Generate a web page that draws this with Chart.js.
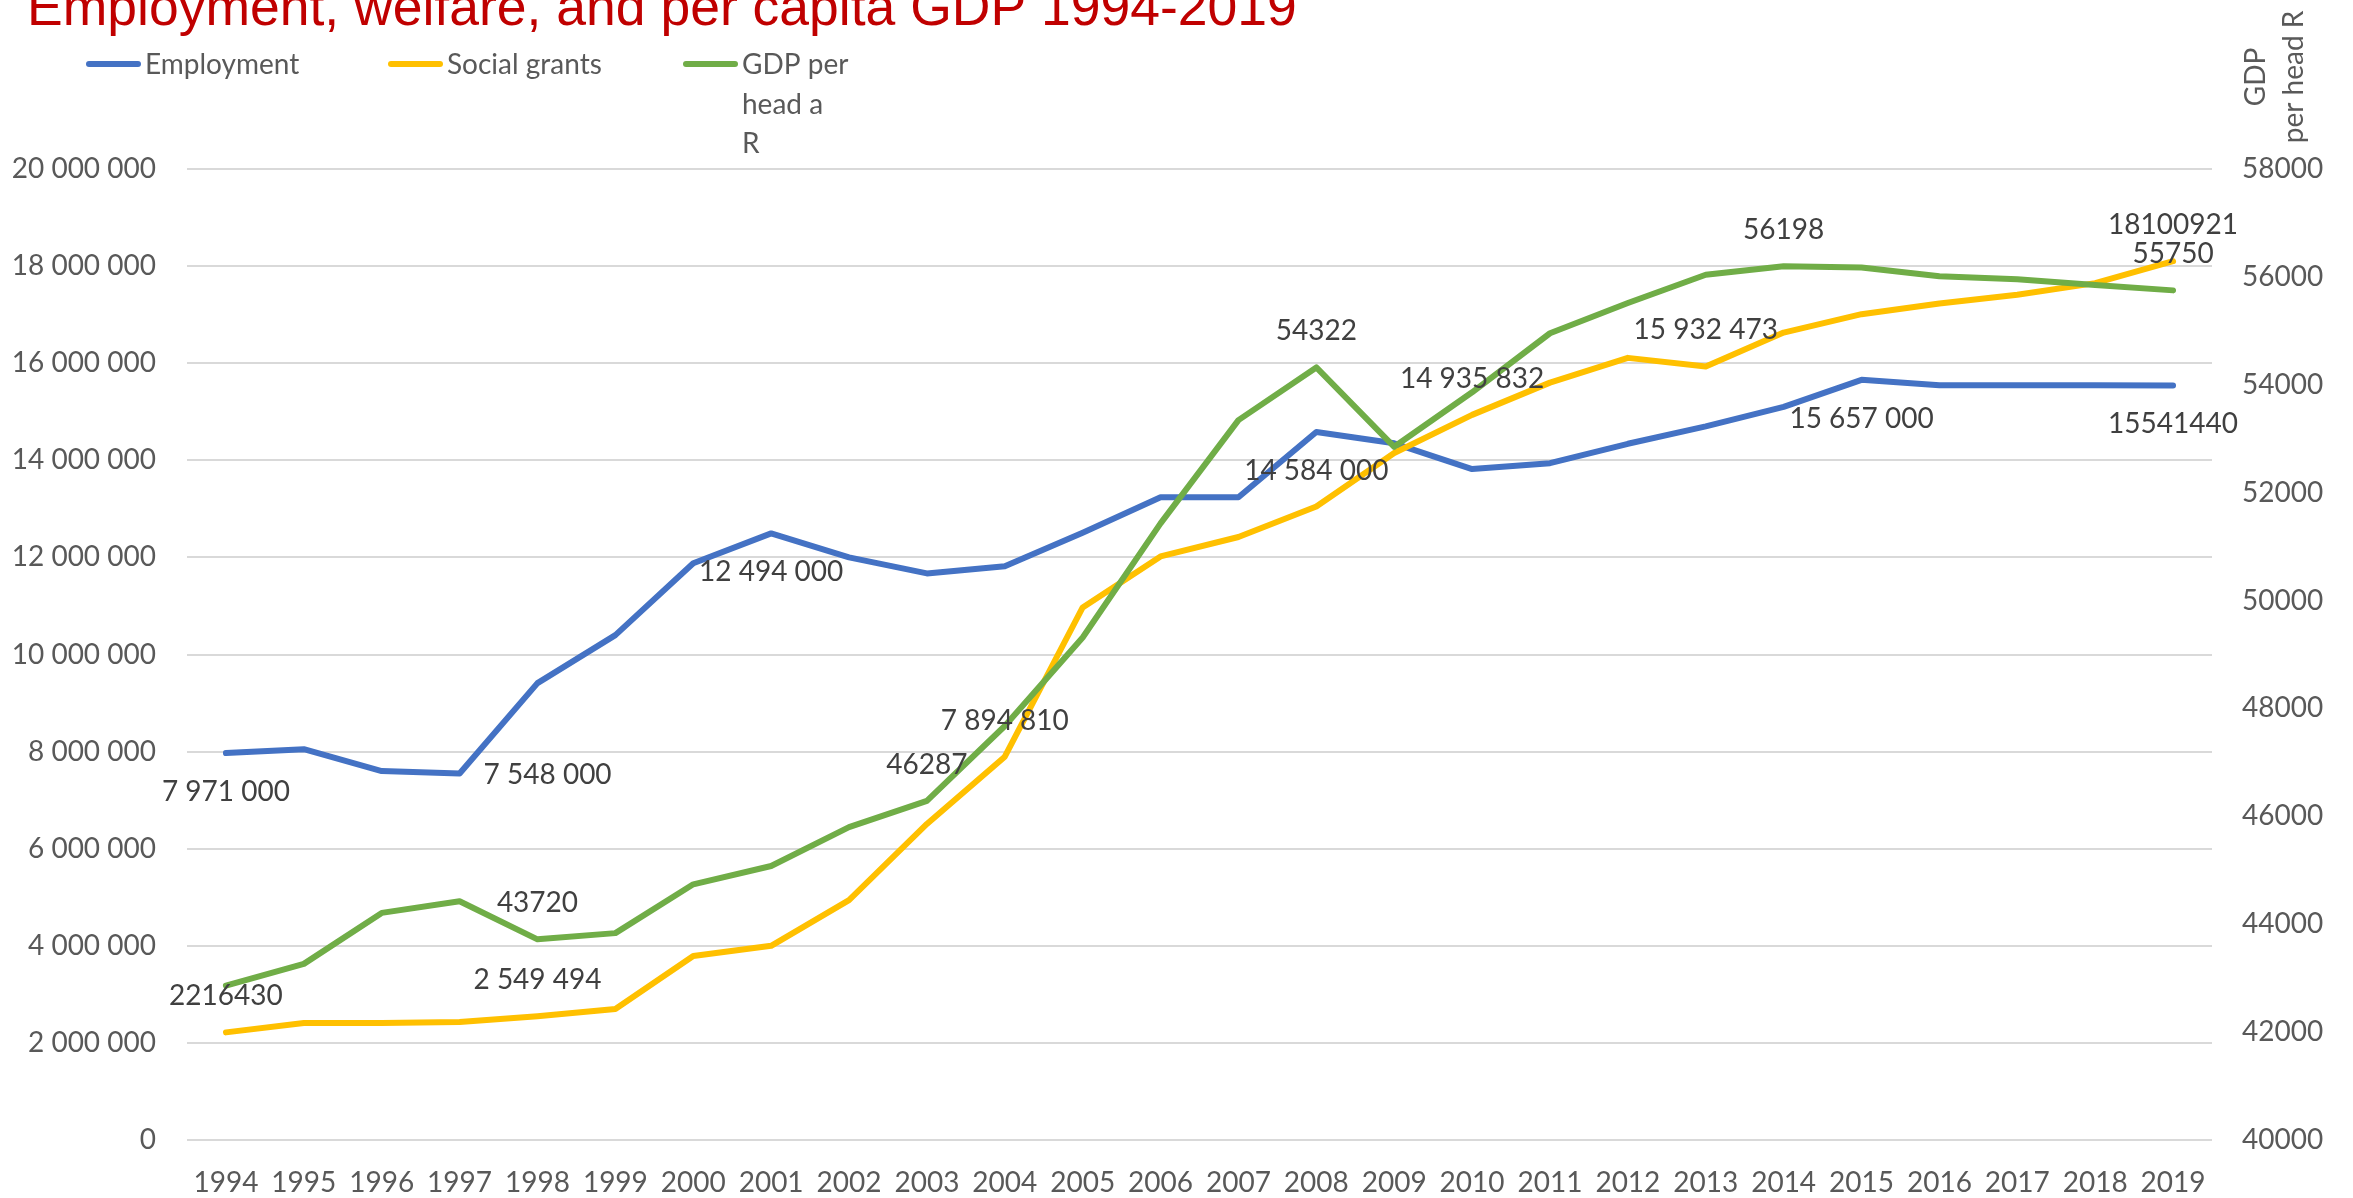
<!DOCTYPE html>
<html lang="en">
<head>
    <meta charset="UTF-8">
    <title>Employment, welfare, and per capita GDP 1994-2019</title>
    <script src="https://cdn.jsdelivr.net/npm/chart.js"></script>
    <style>
        body { margin: 0; background: #fff; }
        #wrap { position: relative; width: 2353px; height: 1198px; }
    </style>
</head>
<body>
    <div id="wrap"><canvas id="chart"></canvas></div>

    <script>
        // data
        var years = ['1994','1995','1996','1997','1998','1999','2000','2001','2002','2003','2004','2005','2006',
                     '2007','2008','2009','2010','2011','2012','2013','2014','2015','2016','2017','2018','2019'];

        var employment = [7971000, 8050000, 7600000, 7548000, 9410000, 10400000, 11880000, 12494000, 12000000,
                          11670000, 11820000, 12510000, 13240000, 13240000, 14584000, 14350000, 13820000, 13940000,
                          14340000, 14700000, 15100000, 15657000, 15545000, 15545000, 15545000, 15541440];

        var socialGrants = [2216430, 2410000, 2410000, 2430000, 2549494, 2700000, 3790000, 4000000, 4940000,
                            6510000, 7894810, 10970000, 12020000, 12420000, 13050000, 14150000, 14935832, 15600000,
                            16110000, 15932473, 16630000, 17010000, 17230000, 17410000, 17650000, 18100921];

        var gdpPerHead = [42860, 43265, 44210, 44425, 43720, 43835, 44740, 45080, 45800, 46287, 47675, 49315, 51430,
                          53345, 54322, 52850, 53860, 54955, 55515, 56040, 56198, 56175, 56010, 55955, 55850, 55750];

        // data labels: index, where, text
        var empLabelAt = [0, 3, 7, 14, 21, 25];
        var empLabelPos = ['below', 'right', 'below', 'below', 'below', 'below'];
        var empLabelText = ['7 971 000', '7 548 000', '12 494 000', '14 584 000', '15 657 000', '15541440'];

        var grantLabelAt = [0, 4, 10, 16, 19, 25];
        var grantLabelText = ['2216430', '2 549 494', '7 894 810', '14 935 832', '15 932 473', '18100921'];

        var gdpLabelAt = [4, 9, 14, 20, 25];
        var gdpLabelText = ['43720', '46287', '54322', '56198', '55750'];

        var legendText = [['Employment'], ['Social grants'], ['GDP per', 'head a', 'R']];
        var legendX = [86, 388, 683];

        var labelFont = '28px Lato';
        var gray = '#595959';

        function spaced(v) {
            return String(v).replace(/\B(?=(\d{3})+(?!\d))/g, ' ');
        }

        var extras = {
            id: 'extras',
            afterDraw: function(chart) {
                var ctx = chart.ctx;
                ctx.save();

                // title, cut at the top like the original
                ctx.font = '53.5px "Liberation Sans"';
                ctx.fillStyle = '#C00000';
                ctx.textAlign = 'left';
                ctx.textBaseline = 'alphabetic';
                ctx.fillText('Employment, welfare, and per capita GDP 1994-2019', 27, 25);

                // legend
                ctx.font = labelFont;
                chart.data.datasets.forEach(function(ds, i) {
                    var x = legendX[i];
                    ctx.strokeStyle = ds.borderColor;
                    ctx.lineWidth = 6;
                    ctx.lineCap = 'round';
                    ctx.beginPath();
                    ctx.moveTo(x + 3, 64);
                    ctx.lineTo(x + 52, 64);
                    ctx.stroke();
                    ctx.fillStyle = gray;
                    legendText[i].forEach(function(t, k) {
                        ctx.fillText(t, x + 59, 74 + k * 39.7);
                    });
                });

                // right axis title
                ctx.save();
                ctx.translate(2265, 77);
                ctx.rotate(-Math.PI / 2);
                ctx.textAlign = 'center';
                ctx.fillStyle = gray;
                ctx.fillText('GDP', 0, 0);
                ctx.fillText('per head R', 0, 38);
                ctx.restore();

                // data labels
                ctx.fillStyle = '#404040';
                function put(dsIndex, at, texts, pos) {
                    var meta = chart.getDatasetMeta(dsIndex);
                    at.forEach(function(idx, k) {
                        var p = meta.data[idx];
                        var where = pos ? pos[k] : 'above';
                        if (where === 'right') {
                            ctx.textAlign = 'left';
                            ctx.fillText(texts[k], p.x + 24, p.y + 10);
                        } else {
                            ctx.textAlign = 'center';
                            ctx.fillText(texts[k], p.x, where === 'above' ? p.y - 27 : p.y + 48);
                        }
                    });
                }
                put(0, empLabelAt, empLabelText, empLabelPos);
                put(1, grantLabelAt, grantLabelText, null);
                put(2, gdpLabelAt, gdpLabelText, null);

                ctx.restore();
            }
        };

        var lineStyle = { borderWidth: 6, pointRadius: 0, tension: 0, borderCapStyle: 'round', borderJoinStyle: 'round', fill: false };

        new Chart(document.getElementById('chart'), {
            type: 'line',
            data: {
                labels: years,
                datasets: [
                    Object.assign({ label: 'Employment', data: employment, borderColor: '#4472C4', yAxisID: 'y', order: 2 }, lineStyle),
                    Object.assign({ label: 'Social grants', data: socialGrants, borderColor: '#FFC000', yAxisID: 'y', order: 1 }, lineStyle),
                    Object.assign({ label: 'GDP per head a R', data: gdpPerHead, borderColor: '#70AD47', yAxisID: 'y1', order: 0 }, lineStyle)
                ]
            },
            options: {
                responsive: true,
                maintainAspectRatio: false,
                animation: false,
                layout: { padding: { top: 169, left: 0, right: 0, bottom: 0 }, autoPadding: false },
                plugins: { legend: { display: false }, title: { display: false }, tooltip: { enabled: false } },
                scales: {
                    x: {
                        offset: true,
                        grid: { display: false },
                        border: { display: false },
                        ticks: { color: gray, font: { family: 'Lato', size: 28 }, padding: 18, autoSkip: false, maxRotation: 0 },
                        afterFit: function(s) { s.height = 58; }
                    },
                    y: {
                        position: 'left',
                        min: 0, max: 20000000,
                        grid: { color: '#d9d9d9', lineWidth: 2, drawTicks: false },
                        border: { display: false },
                        ticks: { stepSize: 2000000, color: gray, font: { family: 'Lato', size: 28 }, padding: 31,
                                 callback: function(v) { return spaced(v); } },
                        afterFit: function(s) { s.width = 187; }
                    },
                    y1: {
                        position: 'right',
                        min: 40000, max: 58000,
                        grid: { display: false, drawTicks: false },
                        border: { display: false },
                        ticks: { stepSize: 2000, color: gray, font: { family: 'Lato', size: 28 }, padding: 30,
                                 callback: function(v) { return String(v); } },
                        afterFit: function(s) { s.width = 141; }
                    }
                }
            },
            plugins: [extras]
        });
    </script>
</body>
</html>
